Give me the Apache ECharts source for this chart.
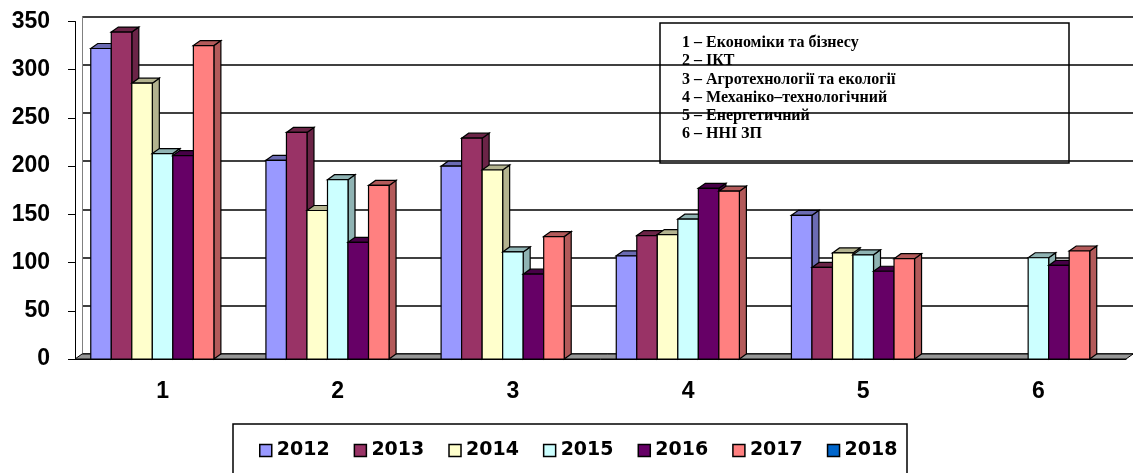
<!DOCTYPE html>
<html>
<head>
<meta charset="utf-8">
<script src="https://cdn.jsdelivr.net/npm/echarts@6/dist/echarts.min.js"></script>
<style>
  html, body { margin: 0; padding: 0; background: #fff; }
  #chart { width: 1133px; height: 473px; }
</style>
</head>
<body>
<div id="chart"></div>
<script>
// ===== data =====
const categories = ['1', '2', '3', '4', '5', '6'];
const years = ['2012', '2013', '2014', '2015', '2016', '2017', '2018'];

const v2012 = [322, 206, 200, 107, 149, null];
const v2013 = [339, 235, 229, 128, 95, null];
const v2014 = [286, 154, 196, 129, 110, null];
const v2015 = [213, 186, 111, 145, 108, 105];
const v2016 = [211, 121, 88, 177, 91, 97];
const v2017 = [325, 180, 127, 174, 104, 112];
const v2018 = [null, null, null, null, null, null];
const yearValues = [v2012, v2013, v2014, v2015, v2016, v2017, v2018];

const yMin = 0, yMax = 350, yStep = 50;

const notes = [
  '1 – Економіки та бізнесу',
  '2 – ІКТ',
  '3 – Агротехнології та екології',
  '4 – Механіко–технологічний',
  '5 – Енергетичний',
  '6 – ННІ ЗП'
];

// ===== look =====
const colors = ['#9999FF', '#993366', '#FFFFCC', '#CCFFFF', '#660066', '#FF8080', '#0066CC'];
const DX = 7, DY = 5;      // 3D depth offset
const GAP = 0.18;          // category gap share

function shade(hex, f) {
  const n = parseInt(hex.slice(1), 16);
  const r = Math.round(((n >> 16) & 255) * f);
  const g = Math.round(((n >> 8) & 255) * f);
  const b = Math.round((n & 255) * f);
  return 'rgb(' + r + ',' + g + ',' + b + ')';
}

function barRenderer(k) {
  return function (params, api) {
    const v = api.value(1);
    if (v == null || isNaN(v)) return null;
    const ci = api.value(0);
    const base = api.coord([ci, 0]);
    const top = api.coord([ci, v]);
    const band = api.size([1, 0])[0];
    const slot = band * (1 - GAP) / years.length;
    const x0 = base[0] - band * (1 - GAP) / 2 + k * slot;
    const x1 = x0 + slot;
    const y0 = base[1], y1 = top[1];
    const dark = shade(colors[k], 0.7);
    const edge = { stroke: '#000', lineWidth: 1.2 };
    return {
      type: 'group',
      children: [
        { type: 'polygon', shape: { points: [[x1, y0], [x1, y1], [x1 + DX, y1 - DY], [x1 + DX, y0 - DY]] },
          style: Object.assign({ fill: dark }, edge) },
        { type: 'polygon', shape: { points: [[x0, y1], [x0 + DX, y1 - DY], [x1 + DX, y1 - DY], [x1, y1]] },
          style: Object.assign({ fill: dark }, edge) },
        { type: 'rect', shape: { x: x0, y: y1, width: slot, height: y0 - y1 },
          style: Object.assign({ fill: colors[k] }, edge) }
      ]
    };
  };
}

// floor of the 3D plot
function floorRenderer(params) {
  const cs = params.coordSys;
  const yb = cs.y + cs.height;
  return {
    type: 'polygon',
    shape: { points: [[cs.x, yb], [cs.x + cs.width, yb], [cs.x + cs.width + DX, yb - DY], [cs.x + DX, yb - DY]] },
    style: { fill: '#969696', stroke: '#000', lineWidth: 1 }
  };
}

const labelFont = { fontFamily: 'Liberation Sans', fontWeight: 'bold', fontSize: 23, color: '#000' };

const series = [{
  type: 'custom',
  name: 'floor',
  silent: true,
  renderItem: floorRenderer,
  encode: { x: 0, y: 1 },
  data: [[0, 0]]
}].concat(years.map((y, k) => ({
  type: 'custom',
  name: y,
  renderItem: barRenderer(k),
  encode: { x: 0, y: 1 },
  itemStyle: { color: colors[k], borderColor: '#000', borderWidth: 1.5 },
  data: yearValues[k].map((v, i) => [i, v])
})));

const chart = echarts.init(document.getElementById('chart'));
chart.setOption({
  animation: false,
  grid: [
    { left: 75, right: 7, top: 21.5, bottom: 114 },
    { left: 75 + DX, right: 0, top: 21.5 - DY, bottom: 114 + DY }
  ],
  xAxis: [
    {
      type: 'category', data: categories, gridIndex: 0,
      axisLine: { lineStyle: { color: '#000', width: 1 } },
      axisTick: { length: 9, lineStyle: { color: '#000' } },
      axisLabel: Object.assign({ margin: 21 }, labelFont)
    },
    { type: 'category', data: categories, gridIndex: 1, show: false }
  ],
  yAxis: [
    {
      type: 'value', gridIndex: 0, min: yMin, max: yMax, interval: yStep,
      axisLine: { show: true, lineStyle: { color: '#000', width: 1 } },
      axisTick: { show: true, length: 7, lineStyle: { color: '#000' } },
      axisLabel: Object.assign({ margin: 25 }, labelFont),
      splitLine: { show: false }
    },
    {
      type: 'value', gridIndex: 1, min: yMin, max: yMax, interval: yStep,
      axisLine: { show: true, lineStyle: { color: '#808080', width: 1 } },
      axisTick: { show: false },
      axisLabel: { show: false },
      splitLine: { show: true, lineStyle: { color: '#000', width: 1.5 } }
    }
  ],
  legend: {
    data: years,
    left: 259, top: 441,
    padding: 0,
    icon: 'rect',
    itemWidth: 12, itemHeight: 12,
    itemGap: 24,
    selectedMode: false,
    itemStyle: { borderColor: '#000', borderWidth: 1.5 },
    textStyle: { fontFamily: 'DejaVu Sans', fontWeight: 'bold', fontSize: 19, color: '#000' }
  },
  graphic: [
    {
      type: 'rect', z: 100, silent: true,
      shape: { x: 233, y: 424, width: 674, height: 60 },
      style: { fill: 'none', stroke: '#000', lineWidth: 1.5 }
    },
    {
      type: 'group', z: 100, silent: true,
      children: [
        { type: 'rect', shape: { x: 660, y: 23, width: 409, height: 140 },
          style: { fill: '#fff', stroke: '#000', lineWidth: 1.5 } },
        { type: 'text', x: 682, y: 34,
          style: { text: notes.join('\n'), fill: '#000', lineHeight: 18.2,
                   font: 'bold 16px "Liberation Serif"' } }
      ]
    }
  ],
  series: series
});
</script>
</body>
</html>
